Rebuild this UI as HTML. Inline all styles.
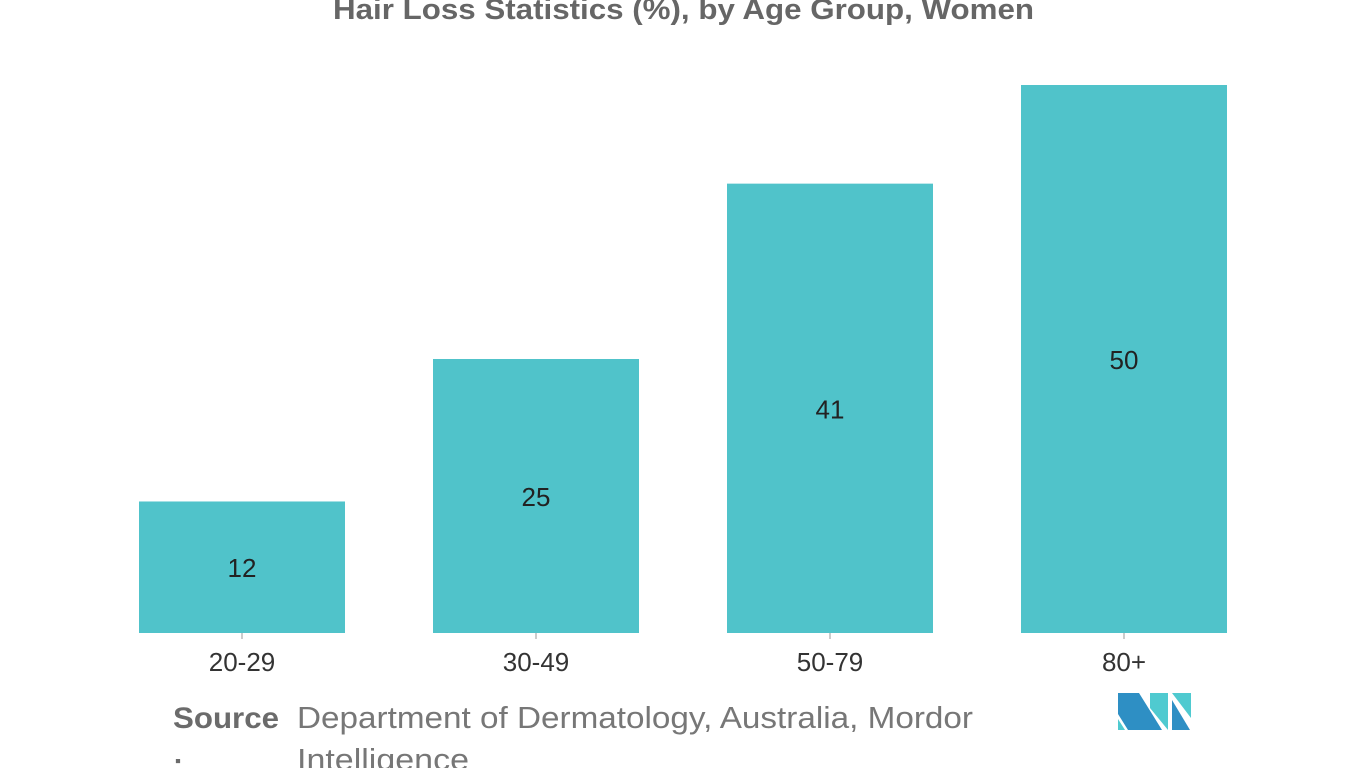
<!DOCTYPE html>
<html><head><meta charset="utf-8"><style>
body{margin:0;width:1366px;height:768px;overflow:hidden;background:#fff;font-family:"Liberation Sans",sans-serif;}
</style></head><body>
<svg width="1366" height="768" id="chart">
<text x="333" y="19" textLength="701" lengthAdjust="spacingAndGlyphs" font-size="29" font-weight="bold" fill="#666">Hair Loss Statistics (%), by Age Group, Women</text>
<g id="bars"></g>
<text x="173" y="728" textLength="106" lengthAdjust="spacingAndGlyphs" font-size="30" font-weight="bold" fill="#6b6b6b">Source</text>
<text x="173" y="774" font-size="30" font-weight="bold" fill="#6b6b6b">:</text>
<text x="297" y="728" textLength="676" lengthAdjust="spacingAndGlyphs" font-size="31" fill="#777">Department of Dermatology, Australia, Mordor</text>
<text x="297" y="770" textLength="172" lengthAdjust="spacingAndGlyphs" font-size="31" fill="#777">Intelligence</text>
<g>
<polygon points="1118,693 1139,693 1162,730 1128,730 1118,714" fill="#2e8fc4"/>
<polygon points="1118,719 1125,730 1118,730" fill="#4fcad0"/>
<polygon points="1150,693 1168,693 1168,730 1150,708" fill="#4fcad0"/>
<polygon points="1172,693 1191,693 1191,718 1172,693" fill="#4fcad0"/>
<polygon points="1172,700 1190,730 1172,730" fill="#2e8fc4"/>
</g>
</svg>
<script>
const categories=["20-29","30-49","50-79","80+"];
const values=[12,25,41,50];
const labels=["12","25","41","50"];
const ns="http://www.w3.org/2000/svg";
const g=document.getElementById("bars");
const base=633,scale=548/50,x0=139,step=294,bw=206;
const y=v=>base-v*scale;
const xPos=i=>x0+i*step;
categories.forEach((c,i)=>{
  const r=document.createElementNS(ns,"rect");
  
  
  r.setAttribute("x",xPos(i));r.setAttribute("y",y(values[i]));
  r.setAttribute("width",bw);r.setAttribute("height",base-y(values[i]));
  r.setAttribute("fill","#50c3ca");g.appendChild(r);
  const t=document.createElementNS(ns,"text");
  
  
  t.setAttribute("x",xPos(i)+bw/2);t.setAttribute("y",(y(values[i])+base)/2+10);
  t.setAttribute("text-anchor","middle");t.setAttribute("font-size","26");t.setAttribute("fill","#222");
  t.textContent=labels[i];g.appendChild(t);
  const tk=document.createElementNS(ns,"line");
  
  
  tk.setAttribute("x1",xPos(i)+bw/2);tk.setAttribute("x2",xPos(i)+bw/2);
  tk.setAttribute("y1",633);tk.setAttribute("y2",639);tk.setAttribute("stroke","#999");g.appendChild(tk);
  const xl=document.createElementNS(ns,"text");
  
  
  xl.setAttribute("x",xPos(i)+bw/2);xl.setAttribute("y",671);
  xl.setAttribute("text-anchor","middle");xl.setAttribute("font-size","26");xl.setAttribute("fill","#333");
  xl.textContent=c;g.appendChild(xl);
});
</script>
</body></html>
